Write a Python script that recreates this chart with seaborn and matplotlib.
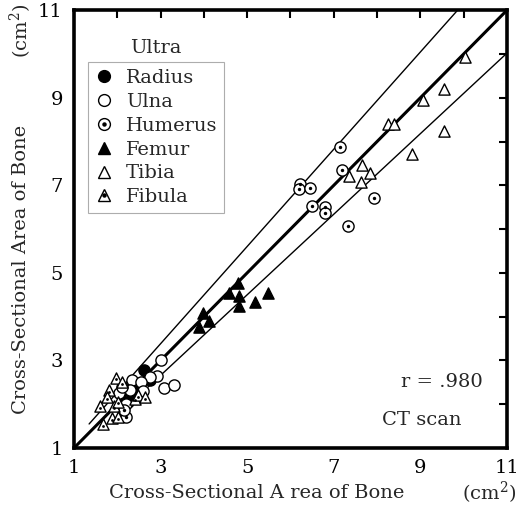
import matplotlib
matplotlib.use("Agg")
import matplotlib.pyplot as plt
import seaborn as sns
import pandas as pd
from matplotlib.lines import Line2D
from matplotlib.legend_handler import HandlerTuple

sns.set_theme(style="white")
plt.rcParams['font.family'] = ['DejaVu Serif']
plt.rcParams['mathtext.fontset'] = 'dejavuserif'

# ---- data ----
radius_x = [2.62, 2.75, 2.45, 2.35, 2.25]
radius_y = [2.78, 2.55, 2.40, 2.25, 2.05]
ulna_x = [3.00, 2.92, 2.75, 3.07, 3.30, 2.35, 2.30, 2.05, 2.20, 2.55, 2.10, 2.60]
ulna_y = [3.02, 2.65, 2.62, 2.38, 2.44, 2.55, 2.32, 2.25, 2.00, 2.50, 2.40, 2.30]
humerus_x = [7.15, 7.18, 6.22, 6.20, 6.46, 6.50, 6.79, 6.79, 7.94, 7.33, 2.20, 2.15]
humerus_y = [7.87, 7.35, 7.03, 6.91, 6.93, 6.53, 6.51, 6.37, 6.70, 6.07, 1.70, 1.88]
femur_x = [4.79, 4.57, 4.80, 4.82, 5.18, 5.47, 3.97, 4.13, 3.88]
femur_y = [4.77, 4.55, 4.48, 4.24, 4.34, 4.53, 4.08, 3.90, 3.77]
tibia_x = [10.03, 9.54, 9.05, 8.26, 8.39, 9.54, 8.80, 7.65, 7.34, 7.84, 7.64]
tibia_y = [9.92, 9.19, 8.95, 8.41, 8.40, 8.24, 7.71, 7.46, 7.21, 7.27, 7.08]
fibula_x = [1.96, 2.10, 1.80, 1.77, 1.60, 1.93, 2.02, 2.40, 2.48, 2.63, 1.67, 1.88, 2.02]
fibula_y = [2.61, 2.51, 2.32, 2.17, 1.96, 1.96, 2.06, 2.13, 2.21, 2.17, 1.54, 1.68, 1.71]

center_x = [1.0, 11.0]
center_y = [1.0, 11.0]
upper_x = [1.35, 9.86]
upper_y = [1.55, 11.0]
lower_x = [2.0, 11.0]
lower_y = [1.74, 10.02]

ticks = list(range(1, 12))
tick_labels = [str(t) if t % 2 == 1 else "" for t in ticks]

fig = plt.figure(figsize=(5.32, 5.08), dpi=100)
ax = fig.add_axes([0.139, 0.118, 0.814, 0.862])

# lines
sns.lineplot(x=center_x, y=center_y, ax=ax, color="black", lw=2.2, zorder=1)
sns.lineplot(x=upper_x, y=upper_y, ax=ax, color="black", lw=1.0, zorder=1)
sns.lineplot(x=lower_x, y=lower_y, ax=ax, color="black", lw=1.0, zorder=1)

ms = 65
kw = dict(ax=ax, s=ms, linewidth=1.0, zorder=3, legend=False)
sns.scatterplot(x=radius_x, y=radius_y, marker="o", color="black", edgecolor="black", **kw)
sns.scatterplot(x=ulna_x, y=ulna_y, marker="o", facecolor="white", edgecolor="black", **kw)
sns.scatterplot(x=humerus_x, y=humerus_y, marker="o", facecolor="white", edgecolor="black", **kw)
sns.scatterplot(x=humerus_x, y=humerus_y, marker="o", color="black", s=6, linewidth=0, ax=ax, zorder=4, legend=False)
sns.scatterplot(x=femur_x, y=femur_y, marker="^", color="black", edgecolor="black", **kw)
sns.scatterplot(x=tibia_x, y=tibia_y, marker="^", facecolor="white", edgecolor="black", **kw)
sns.scatterplot(x=fibula_x, y=fibula_y, marker="^", facecolor="white", edgecolor="black", **kw)
sns.scatterplot(x=fibula_x, y=[v - 0.04 for v in fibula_y], marker="o", color="black", s=4, linewidth=0, ax=ax, zorder=4, legend=False)

ax.set_xlim(1, 11)
ax.set_ylim(1, 11)
ax.set_xticks(ticks)
ax.set_yticks(ticks)
ax.set_xticklabels(tick_labels)
ax.set_yticklabels(tick_labels)
ax.tick_params(direction="in", length=6, width=1.5, top=True, right=True,
               labelsize=14, colors="black", pad=8)
ax.set_xlabel("")
ax.set_ylabel("")
for s in ax.spines.values():
    s.set_visible(True)
    s.set_linewidth(2.6)
    s.set_color("black")

# legend
def mk(marker, fc, size=8.5):
    return Line2D([], [], marker=marker, linestyle="none", markersize=size,
                  markerfacecolor=fc, markeredgecolor="black", markeredgewidth=1.0)

def dot():
    return Line2D([], [], marker="o", linestyle="none", markersize=2.2,
                  markerfacecolor="black", markeredgecolor="black")

handles = [mk("o", "black"), mk("o", "white"), (mk("o", "white"), dot()),
           mk("^", "black"), mk("^", "white"), (mk("^", "white"), dot())]
labels = ["Radius", "Ulna", "Humerus", "Femur", "Tibia", "Fibula"]
leg = ax.legend(handles, labels, loc="upper left", bbox_to_anchor=(0.032, 0.881),
                borderaxespad=0, frameon=True, fancybox=False, fontsize=14,
                handlelength=1.0, handletextpad=0.6, labelspacing=0.3,
                borderpad=0.35, handler_map={tuple: HandlerTuple(ndivide=1, pad=0)})
leg.get_frame().set_edgecolor("#999999")
leg.get_frame().set_linewidth(0.8)

ax.text(2.9, 10.13, "Ultra", fontsize=14, ha="center", va="center")
ax.text(10.45, 2.5, "r = .980", fontsize=14, ha="right", va="center")
ax.text(9.95, 1.64, "CT scan", fontsize=14, ha="right", va="center")

fig.text(0.483, 0.03, "Cross-Sectional A rea of Bone", fontsize=14, ha="center", va="center")
fig.text(0.92, 0.03, "(cm$^2$)", fontsize=14, ha="center", va="center")
fig.text(0.04, 0.47, "Cross-Sectional Area of Bone", fontsize=14, ha="center", va="center", rotation=90)
fig.text(0.04, 0.94, "(cm$^2$)", fontsize=14, ha="center", va="center", rotation=90)

fig.savefig("out.png", dpi=100, facecolor="white")
